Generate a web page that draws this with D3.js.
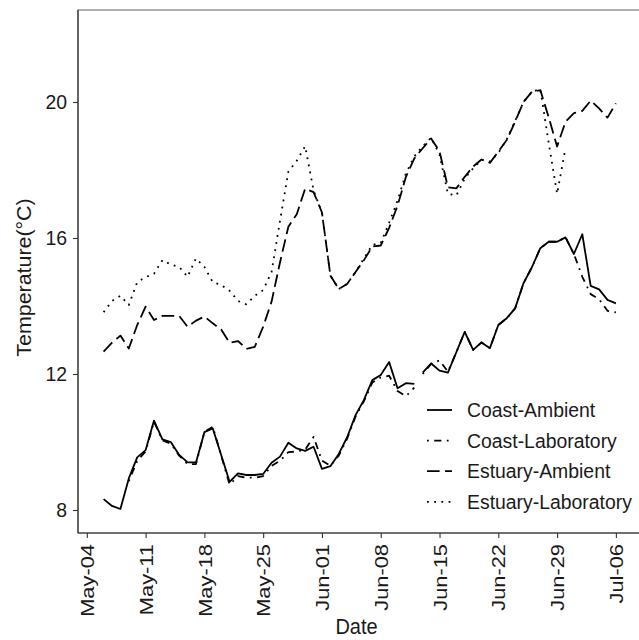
<!DOCTYPE html>
<html>
<head>
<meta charset="utf-8">
<script src="https://cdn.jsdelivr.net/npm/d3@7/dist/d3.min.js"></script>
<style>
  html, body { margin: 0; padding: 0; background: #fff; }
  svg { display: block; font-family: "Liberation Sans", Arial, Helvetica, sans-serif; }
</style>
</head>
<body>
<svg id="chart" width="639" height="640"></svg>
<script>
// Daily water temperature, 6 May – 6 July
const startDate = "2021-05-06";
const endDate = "2021-07-06";

const seriesNames = ["Coast-Ambient", "Coast-Laboratory", "Estuary-Ambient", "Estuary-Laboratory"];

const coastAmbient = [
  8.32, 8.12, 8.03, 8.93, 9.55, 9.76, 10.63, 10.08, 10.00, 9.62,
  9.40, 9.40, 10.29, 10.40, 9.62, 8.83, 9.08, 9.03, 9.03, 9.06,
  9.39, 9.57, 9.98, 9.81, 9.74, 9.86, 9.21, 9.29, 9.65, 10.14,
  10.79, 11.24, 11.82, 11.97, 12.35, 11.58, 11.73, 11.71, 12.04, 12.31,
  12.10, 12.04, 12.64, 13.24, 12.71, 12.93, 12.76, 13.44, 13.64, 13.93,
  14.67, 15.14, 15.70, 15.89, 15.89, 16.02, 15.53, 16.11, 14.59, 14.49,
  14.18, 14.08
];

const coastLaboratory = [
  null, null, null, 8.85, 9.45, 9.72, 10.60, 10.05, 9.95, 9.60,
  9.35, 9.35, 10.30, 10.45, 9.60, 8.75, 9.00, 8.95, 8.95, 9.00,
  9.30, 9.45, 9.70, 9.72, 9.78, 10.15, 9.45, 9.30, 9.60, 10.10,
  10.75, 11.20, 11.75, 11.90, 11.95, 11.50, 11.35, 11.60, 12.00, 12.30,
  12.40, 12.07, 12.64, 13.24, 12.71, 12.93, 12.76, 13.44, 13.64, 13.93,
  14.67, 15.14, 15.70, 15.89, 15.89, 16.02, 15.53, 14.86, 14.35, 14.20,
  13.86, 13.81
];

const estuaryAmbient = [
  12.66, 12.92, 13.13, 12.75, 13.44, 13.98, 13.59, 13.71, 13.71, 13.71,
  13.39, 13.57, 13.69, 13.49, 13.31, 12.92, 12.97, 12.74, 12.80, 13.39,
  14.13, 15.28, 16.33, 16.70, 17.45, 17.35, 16.75, 14.90, 14.50, 14.65,
  15.00, 15.35, 15.75, 15.78, 16.30, 16.95, 17.80, 18.34, 18.64, 18.93,
  18.55, 17.49, 17.46, 17.80, 18.10, 18.31, 18.21, 18.54, 18.88, 19.42,
  20.00, 20.30, 20.35, 19.55, 18.69, 19.42, 19.67, 19.74, 20.04, 19.81,
  19.54, 19.96
];

const estuaryLaboratory = [
  13.82, 14.15, 14.30, 14.03, 14.70, 14.85, 14.95, 15.35, 15.22, 15.15,
  14.86, 15.40, 15.15, 14.70, 14.62, 14.45, 14.15, 14.05, 14.30, 14.47,
  15.00, 16.50, 17.95, 18.27, 18.70, 17.40, 16.75, 14.90, 14.50, 14.65,
  15.00, 15.40, 15.80, 15.85, 16.45, 17.10, 17.90, 18.40, 18.70, 18.95,
  18.45, 17.30, 17.25, 17.75, 18.05, 18.30, 18.25, 18.50, 18.90, 19.45,
  20.00, 20.30, 20.38, 18.80, 17.30, 18.65, null, null, null, null,
  null, null
];

// The coast loggers have a break in the record between these two days
const coastBreakAfter = "2021-06-12";

const xTickDates = ["2021-05-04", "2021-05-11", "2021-05-18", "2021-05-25", "2021-06-01",
                    "2021-06-08", "2021-06-15", "2021-06-22", "2021-06-29", "2021-07-06"];
const yTicks = [8, 12, 16, 20];

const lineStyles = {
  "Coast-Ambient": null,
  "Coast-Laboratory": "1.8 5.4 7.2 5.4",
  "Estuary-Ambient": "12.6 5.4",
  "Estuary-Laboratory": "1.8 5.4"
};

const parse = d3.utcParse("%Y-%m-%d");
const fmt = d3.utcFormat("%b-%d");
const dates = d3.utcDay.range(parse(startDate), d3.utcDay.offset(parse(endDate), 1));

const valuesBySeries = {
  "Coast-Ambient": coastAmbient,
  "Coast-Laboratory": coastLaboratory,
  "Estuary-Ambient": estuaryAmbient,
  "Estuary-Laboratory": estuaryLaboratory
};

const svg = d3.select("#chart");
const panel = { left: 78, top: 10, right: 641.5, bottom: 533 };
const fontFamily = "'Liberation Sans', Arial, sans-serif";
const stretch = 1.07;      // glyphs are drawn slightly tall
const tickStretch = 1.15;  // along the rotated date labels

// ggplot-style 5% expansion on the date range
const t0 = dates[0].getTime(), t1 = dates[dates.length - 1].getTime();
const pad = (t1 - t0) * 0.05;
const x = d3.scaleUtc()
  .domain([new Date(t0 - pad), new Date(t1 + pad)])
  .range([panel.left, panel.right]);
const y = d3.scaleLinear()
  .domain([7.324, 22.706])
  .range([panel.bottom, panel.top]);

const ink = "#1a1a1a";

// panel frame
svg.append("rect")
  .attr("x", panel.left).attr("y", panel.top)
  .attr("width", panel.right - panel.left).attr("height", panel.bottom - panel.top)
  .attr("fill", "none").attr("stroke", "#6e6e6e").attr("stroke-width", 1.1);

// clip for the data lines
svg.append("clipPath").attr("id", "clip")
  .append("rect")
  .attr("x", panel.left).attr("y", panel.top)
  .attr("width", panel.right - panel.left).attr("height", panel.bottom - panel.top);

const line = d3.line()
  .defined(d => d.v != null)
  .x(d => x(d.date))
  .y(d => y(d.v));

const plot = svg.append("g").attr("clip-path", "url(#clip)");
const breakTime = parse(coastBreakAfter).getTime();

seriesNames.forEach(name => {
  const vals = valuesBySeries[name];
  const pts = dates.map((date, i) => ({ date, v: vals[i] }));
  let segments = [pts];
  if (name.startsWith("Coast")) {
    segments = [
      pts.filter(p => p.date.getTime() <= breakTime),
      pts.filter(p => p.date.getTime() > breakTime)
    ];
  }
  segments.forEach(seg => {
    plot.append("path")
      .datum(seg)
      .attr("d", line)
      .attr("fill", "none")
      .attr("stroke", "#000")
      .attr("stroke-width", 1.8)
      .attr("stroke-linejoin", "round")
      .attr("stroke-dasharray", lineStyles[name]);
  });
});

// y axis
const yAxis = d3.axisLeft(y).tickValues(yTicks).tickSize(5).tickPadding(6);
const gy = svg.append("g").attr("transform", `translate(${panel.left},0)`).call(yAxis);
gy.select(".domain").remove();
gy.selectAll(".tick line").attr("stroke", "#333").attr("stroke-width", 1.1);
gy.selectAll(".tick text").attr("fill", ink).style("font-size", "19.4px")
  .style("font-family", fontFamily)
  .attr("transform", `scale(1,${stretch})`);
svg.append("line")
  .attr("x1", panel.left).attr("x2", panel.left)
  .attr("y1", panel.top).attr("y2", panel.bottom)
  .attr("stroke", "#333").attr("stroke-width", 1.2);

// x axis
const xAxis = d3.axisBottom(x)
  .tickValues(xTickDates.map(parse))
  .tickFormat(fmt)
  .tickSize(5).tickPadding(4);
const gx = svg.append("g").attr("transform", `translate(0,${panel.bottom})`).call(xAxis);
gx.select(".domain").remove();
gx.selectAll(".tick line").attr("stroke", "#333").attr("stroke-width", 1.1);
gx.selectAll(".tick text")
  .attr("fill", ink)
  .style("font-size", "19px")
  .style("font-family", fontFamily)
  .attr("text-anchor", "end")
  .attr("transform", `rotate(-90) scale(${tickStretch},1)`)
  .attr("x", -11 / tickStretch)
  .attr("y", 0)
  .attr("dy", "0.35em");
svg.append("line")
  .attr("x1", panel.left).attr("x2", panel.right)
  .attr("y1", panel.bottom).attr("y2", panel.bottom)
  .attr("stroke", "#333").attr("stroke-width", 1.2);

// axis titles
svg.append("text")
  .attr("transform", `translate(${(panel.left + 639) / 2 - 2},634) scale(1,${stretch})`)
  .attr("text-anchor", "middle")
  .attr("fill", ink).style("font-size", "20px")
  .text("Date");
svg.append("text")
  .attr("transform", `translate(31,${(panel.top + panel.bottom) / 2 + 6}) rotate(-90) scale(${stretch},1)`)
  .attr("text-anchor", "middle")
  .attr("fill", ink).style("font-size", "20px")
  .text("Temperature(°C)");

// legend
const legend = svg.append("g").attr("transform", "translate(427,410)");
seriesNames.forEach((name, i) => {
  const g = legend.append("g").attr("transform", `translate(0,${i * 30.6})`);
  g.append("line")
    .attr("x1", 0).attr("x2", 25).attr("y1", 0).attr("y2", 0)
    .attr("stroke", "#000").attr("stroke-width", 1.8)
    .attr("stroke-dasharray", lineStyles[name]);
  g.append("text")
    .attr("transform", `translate(40,0) scale(1,${stretch})`)
    .attr("dy", "0.35em")
    .attr("fill", ink).style("font-size", "19.4px")
    .text(name);
});
</script>
</body>
</html>
